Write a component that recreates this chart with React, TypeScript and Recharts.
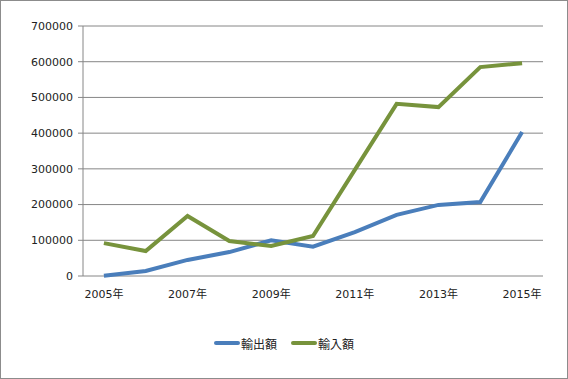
import { LineChart, Line, XAxis, YAxis, CartesianGrid, Legend } from 'recharts';

const years = ['2005年', '2006年', '2007年', '2008年', '2009年', '2010年', '2011年', '2012年', '2013年', '2014年', '2015年'];
const exportValues = [1000, 14000, 45000, 67000, 100000, 82000, 123000, 171000, 199000, 207000, 403000];
const importValues = [92000, 70000, 168000, 98000, 84000, 112000, 297000, 482000, 473000, 585000, 596000];
const yTicks = [0, 100000, 200000, 300000, 400000, 500000, 600000, 700000];
const boundaryTicks = [0, 1, 2, 3, 4, 5, 6, 7, 8, 9, 10, 11];

const chartData = years.map((year, i) => ({
  year,
  輸出額: exportValues[i],
  輸入額: importValues[i],
}));

const FONT = '"DejaVu Sans", "Noto Sans CJK JP", sans-serif';
const AXIS_GRAY = '#868686';
const BLUE = '#4a7ebb';
const GREEN = '#77933c';

function LegendContent() {
  const items = [
    { name: '輸出額', color: BLUE },
    { name: '輸入額', color: GREEN },
  ];
  return (
    <div style={{ display: 'flex', justifyContent: 'center', gap: 14, fontFamily: FONT, fontSize: 12, color: '#222', height: 18, alignItems: 'center' }}>
      {items.map((item) => (
        <div key={item.name} style={{ display: 'flex', alignItems: 'center' }}>
          <svg width={26} height={8}>
            <line x1={2} y1={4} x2={24} y2={4} stroke={item.color} strokeWidth={4} strokeLinecap="round" />
          </svg>
          <span style={{ marginLeft: 1 }}>{item.name}</span>
        </div>
      ))}
    </div>
  );
}

export default function App() {
  return (
    <div
      style={{
        position: 'absolute',
        left: 0,
        top: 0,
        width: 568,
        height: 379,
        boxSizing: 'border-box',
        border: '1px solid #8c8c8c',
        background: '#fff',
      }}
    >
      <div style={{ position: 'absolute', left: -1, top: -1 }}>
        <LineChart width={568} height={379} data={chartData} margin={{ top: 26, right: 25, bottom: 55, left: 0 }}>
          <CartesianGrid vertical={false} stroke={AXIS_GRAY} strokeWidth={1} />
          <XAxis
            xAxisId="bounds"
            type="number"
            domain={[0, 11]}
            ticks={boundaryTicks}
            tickFormatter={() => ''}
            height={0}
            tickSize={5}
            stroke={AXIS_GRAY}
            allowDataOverflow
          />
          <XAxis
            xAxisId="years"
            dataKey="year"
            scale="band"
            interval={1}
            height={30}
            axisLine={false}
            tickLine={false}
            tickMargin={8}
            tick={{ fill: '#222', fontSize: 11, fontFamily: FONT }}
          />
          <YAxis
            domain={[0, 700000]}
            ticks={yTicks}
            width={83}
            tickSize={5}
            tickMargin={5}
            stroke={AXIS_GRAY}
            tick={{ fill: '#222', fontSize: 11, fontFamily: FONT }}
          />
          <Legend verticalAlign="bottom" content={<LegendContent />} wrapperStyle={{ top: 334, left: 0, width: 568 }} />
          <Line xAxisId="years" type="linear" dataKey="輸出額" stroke={BLUE} strokeWidth={4} dot={false} isAnimationActive={false} />
          <Line xAxisId="years" type="linear" dataKey="輸入額" stroke={GREEN} strokeWidth={4} dot={false} isAnimationActive={false} />
        </LineChart>
      </div>
    </div>
  );
}
